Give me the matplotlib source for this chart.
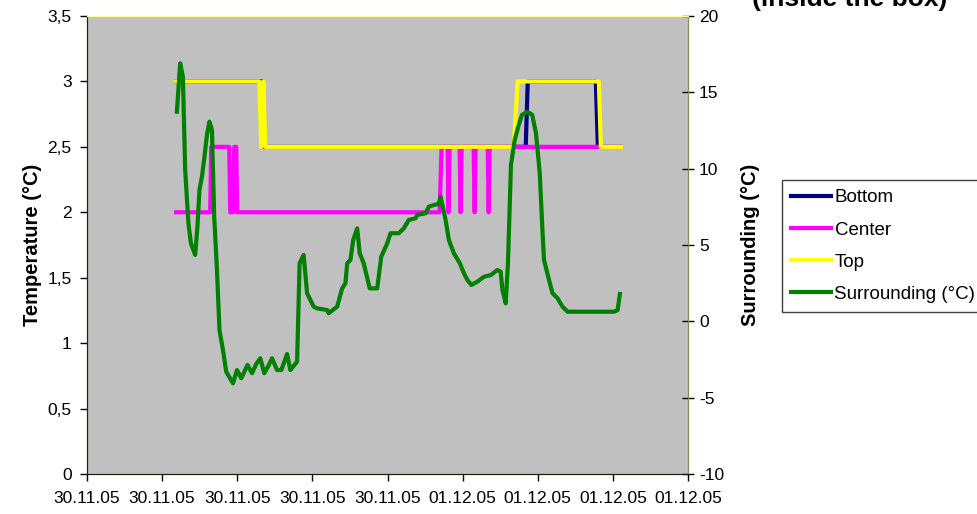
import matplotlib
matplotlib.use("Agg")
import matplotlib.pyplot as plt

plt.rcParams["font.family"] = ["Liberation Sans", "DejaVu Sans"]
plt.rcParams["axes.unicode_minus"] = False

# time axis in hours from the first tick (30.11.05 09:00)
x_ticks = [0, 3, 6, 9, 12, 15, 18, 21, 24]
x_labels = ["30.11.05"] * 5 + ["01.12.05"] * 4

temp_ticks = [0, 0.5, 1, 1.5, 2, 2.5, 3, 3.5]
temp_labels = ["0", "0,5", "1", "1,5", "2", "2,5", "3", "3,5"]
surr_ticks = [-10, -5, 0, 5, 10, 15, 20]

# sensor temperatures (step-like)
bottom_t = [3.56, 7.0, 7.08, 17.52, 17.6, 20.32, 20.4, 21.32]
bottom_v = [3.0, 3.0, 2.5, 2.5, 3.0, 3.0, 2.5, 2.5]

top_t = [3.56, 6.88, 6.96, 7.04, 7.12, 17.04, 17.2, 20.44, 20.52, 21.32]
top_v = [3.0, 3.0, 2.5, 3.0, 2.5, 2.5, 3.0, 3.0, 2.5, 2.5]

center_t = [3.56, 4.92, 4.96, 5.68, 5.72, 5.84, 5.88, 5.96, 6.0, 14.08, 14.16,
            14.4, 14.44, 14.48, 14.88, 14.92, 14.96, 15.44, 15.48, 15.52,
            16.0, 16.04, 16.08, 21.32]
center_v = [2.0, 2.0, 2.5, 2.5, 2.0, 2.0, 2.5, 2.5, 2.0, 2.0, 2.5,
            2.5, 2.0, 2.5, 2.5, 2.0, 2.5, 2.5, 2.0, 2.5,
            2.5, 2.0, 2.5, 2.5]

# surrounding air temperature (right axis)
surr_t = [3.59, 3.72, 3.83, 3.92, 4.05, 4.15, 4.32, 4.41, 4.49, 4.59, 4.69, 4.79,
          4.89, 4.99, 5.08, 5.19, 5.29, 5.43, 5.56, 5.83, 5.99, 6.16, 6.41, 6.59,
          6.76, 6.92, 7.08, 7.24, 7.39, 7.59, 7.76, 7.99, 8.12, 8.39, 8.49, 8.65,
          8.79, 9.05, 9.19, 9.59, 9.65, 9.99, 10.19, 10.32, 10.39, 10.52, 10.63,
          10.79, 10.89, 11.05, 11.29, 11.59, 11.75, 11.99, 12.12, 12.45, 12.65,
          12.85, 13.12, 13.19, 13.52, 13.65, 13.85, 14.05, 14.12, 14.32, 14.45,
          14.65, 14.89, 15.05, 15.19, 15.35, 15.59, 15.85, 16.12, 16.39, 16.52,
          16.59, 16.72, 16.81, 16.93, 17.08, 17.22, 17.37, 17.59, 17.78, 17.93,
          18.08, 18.18, 18.25, 18.45, 18.59, 18.79, 18.99, 19.19, 21.05, 21.19,
          21.28]
surr_v = [13.73, 16.90, 16.02, 9.91, 6.42, 5.11, 4.35, 6.20, 8.60, 9.47, 10.78, 12.21,
          13.08, 12.53, 6.85, 3.36, -0.57, -1.88, -3.30, -4.06, -3.19, -3.73, -2.86, -3.40,
          -2.79, -2.42, -3.40, -2.93, -2.42, -3.19, -3.19, -2.14, -3.19, -2.64, 3.80, 4.35,
          1.84, 0.96, 0.85, 0.74, 0.53, 0.96, 2.16, 2.49, 3.80, 4.02, 5.33,
          6.09, 4.46, 3.80, 2.16, 2.16, 4.23, 5.11, 5.77, 5.77, 6.09,
          6.64, 6.75, 6.97, 7.08, 7.51, 7.62, 7.69, 8.16, 6.64, 5.33,
          4.46, 3.80, 3.15, 2.71, 2.38, 2.60, 2.92, 3.03, 3.36, 3.25,
          2.05, 1.18, 3.80, 10.24, 11.88, 12.75, 13.52, 13.73, 13.52, 12.32,
          9.70, 6.20, 4.02, 2.71, 1.84, 1.51, 0.96, 0.63, 0.63, 0.74,
          1.79]

fig = plt.figure(figsize=(9.77, 5.14), dpi=100)
ax = fig.add_axes([87 / 977, 1 - 474 / 514, 601 / 977, 458 / 514])
ax.set_facecolor("#c0c0c0")

lw = 3.0
l_bot, = ax.plot(bottom_t, bottom_v, color="#000080", lw=lw, label="Bottom")
l_cen, = ax.plot(center_t, center_v, color="#ff00ff", lw=lw, label="Center")
l_top, = ax.plot(top_t, top_v, color="#ffff00", lw=lw, label="Top")

ax.set_xlim(0, 24)
ax.set_ylim(0, 3.5)
ax.set_xticks(x_ticks)
ax.set_xticklabels(x_labels)
ax.set_yticks(temp_ticks)
ax.set_yticklabels(temp_labels)
ax.tick_params(axis="both", labelsize=12.5, direction="out", length=5, width=1, colors="black")
ax.tick_params(axis="x", pad=7)
ax.tick_params(axis="y", pad=6)
ax.set_ylabel("Temperature (°C)", fontsize=14.5, fontweight="bold", labelpad=4)

ax2 = ax.twinx()
l_sur, = ax2.plot(surr_t, surr_v, color="#008000", lw=lw, label="Surrounding (°C)")
ax2.set_ylim(-10, 20)
ax2.set_yticks(surr_ticks)
ax2.tick_params(axis="y", labelsize=12.5, direction="inout", length=9, width=1)
ax2.set_ylabel("Surrounding (°C)", fontsize=14.5, fontweight="bold", labelpad=12)

for a in (ax, ax2):
    a.spines["top"].set_color("#ffff99")
    a.spines["left"].set_color("#202010")
    a.spines["bottom"].set_color("#202010")
    a.spines["right"].set_color("#8c8c60")

fig.legend(handles=[l_bot, l_cen, l_top, l_sur], loc="upper left",
           bbox_to_anchor=(782 / 977, 1 - 180 / 514), borderaxespad=0,
           fontsize=13.5, frameon=True, fancybox=False, framealpha=1,
           edgecolor="#404040", handlelength=2.1, handletextpad=0.2,
           labelspacing=0.8, borderpad=0.5)

# title sits mostly above the canvas in the reference
fig.text(947 / 977, 1 - 6 / 514, "(inside the box)", ha="right",
         va="baseline", fontsize=19, fontweight="bold")

fig.savefig("out.png", dpi=100)
plt.close(fig)
